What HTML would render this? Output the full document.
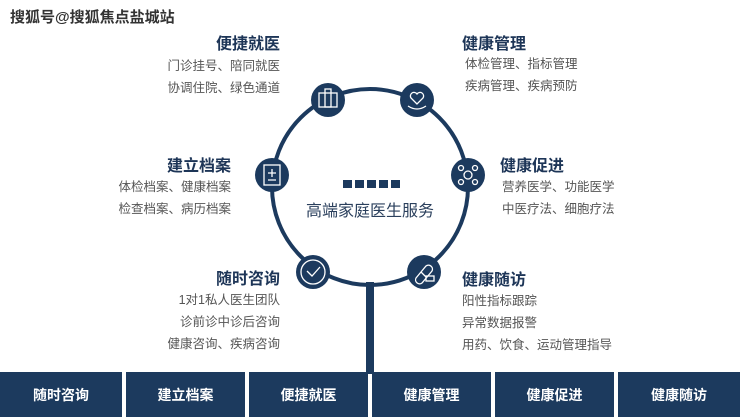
<!DOCTYPE html>
<html><head><meta charset="utf-8"><style>
body{margin:0;width:740px;height:417px;background:#fff;position:relative;overflow:hidden;font-family:"Liberation Sans","Noto Sans CJK SC",sans-serif}
.t{position:absolute;font-weight:bold;color:#1d3557;font-size:16px;white-space:nowrap}
.s{position:absolute;color:#555;font-size:12.5px;line-height:22px;white-space:nowrap}
.r{text-align:right}
.bar{position:absolute;top:372px;height:45px;background:#1c3a5e;color:#fff;font-size:14px;font-weight:bold;display:flex;align-items:center;justify-content:center}
</style></head><body>
<div style="position:absolute;left:10px;top:6px;font-size:15px;color:#333;font-weight:bold">搜狐号@搜狐焦点盐城站</div>
<div class="t r" style="right:460px;top:30px">便捷就医</div>
<div class="s r" style="right:460px;top:55px">门诊挂号、陪同就医<br>协调住院、绿色通道</div>
<div class="t" style="left:462px;top:30px">健康管理</div>
<div class="s" style="left:465px;top:53px">体检管理、指标管理<br>疾病管理、疾病预防</div>
<div class="t r" style="right:509px;top:152px">建立档案</div>
<div class="s r" style="right:509px;top:176px">体检档案、健康档案<br>检查档案、病历档案</div>
<div class="t" style="left:500px;top:152px">健康促进</div>
<div class="s" style="left:502px;top:176px">营养医学、功能医学<br>中医疗法、细胞疗法</div>
<div class="t r" style="right:460px;top:265px">随时咨询</div>
<div class="s r" style="right:460px;top:289px">1对1私人医生团队<br>诊前诊中诊后咨询<br>健康咨询、疾病咨询</div>
<div class="t" style="left:462px;top:266px">健康随访</div>
<div class="s" style="left:462px;top:290px">阳性指标跟踪<br>异常数据报警<br>用药、饮食、运动管理指导</div>
<svg style="position:absolute;left:0;top:0" width="740" height="417">
<circle cx="370" cy="187" r="98" fill="none" stroke="#1c3a5e" stroke-width="4"/>
<rect x="366" y="282" width="8" height="92" fill="#1c3a5e"/>
<g fill="#1c3a5e">
<rect x="343" y="180" width="9" height="8"/><rect x="355" y="180" width="9" height="8"/><rect x="367" y="180" width="9" height="8"/><rect x="379" y="180" width="9" height="8"/><rect x="391" y="180" width="9" height="8"/>
<circle cx="328" cy="100" r="17"/><circle cx="417" cy="100" r="17"/>
<circle cx="272" cy="175" r="17"/><circle cx="468" cy="175" r="17"/>
<circle cx="313" cy="272" r="17"/><circle cx="424" cy="272" r="17"/>
</g>
<g fill="none" stroke="#fff" stroke-width="1.3">
<rect x="319" y="93" width="18" height="14"/><rect x="325" y="89" width="6" height="18"/>
<path d="M408 106q9 6 18 0M417 104l-6-6a3.5 3.5 0 0 1 6-4a3.5 3.5 0 0 1 6 4z"/>
<rect x="264" y="165" width="16" height="20"/><path d="M268 173h8M272 169v8M268 180h8"/>
<circle cx="468" cy="175" r="4"/><circle cx="461" cy="168" r="2.5"/><circle cx="475" cy="168" r="2.5"/><circle cx="461" cy="182" r="2.5"/><circle cx="475" cy="182" r="2.5"/>
<circle cx="313" cy="272" r="12"/><path d="M307 271l5 5 8-9"/>
<path d="M416 278l10-12a4 4 0 0 1 6 5l-10 12a4 4 0 0 1-6-5zM421 272l5 5"/><rect x="426" y="276" width="8" height="5"/>
</g>
<text x="370" y="216" text-anchor="middle" font-size="16" fill="#2a3f5c" font-family="Liberation Sans,Noto Sans CJK SC,sans-serif">高端家庭医生服务</text>
</svg>
<div class="bar" style="left:0;width:122px">随时咨询</div>
<div class="bar" style="left:126px;width:119px">建立档案</div>
<div class="bar" style="left:249px;width:119px">便捷就医</div>
<div class="bar" style="left:372px;width:119px">健康管理</div>
<div class="bar" style="left:495px;width:119px">健康促进</div>
<div class="bar" style="left:618px;width:122px">健康随访</div>
</body></html>
